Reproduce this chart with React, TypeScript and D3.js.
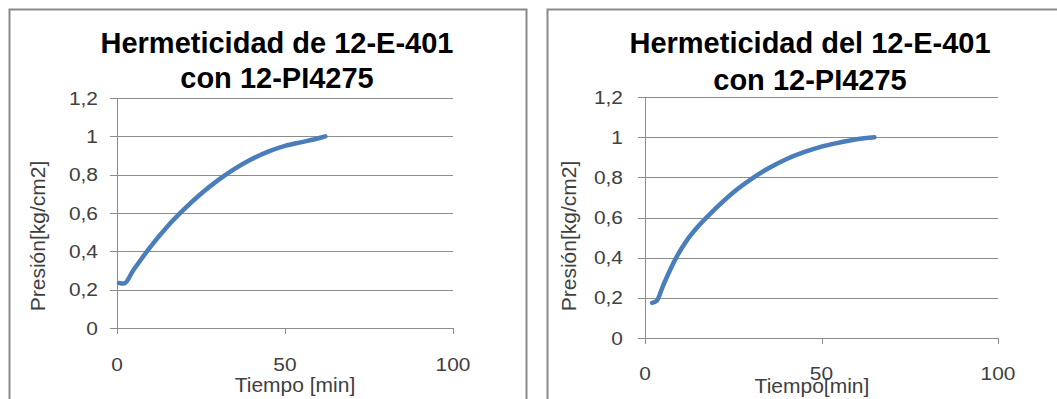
import React from "react";
import * as d3 from "d3";

// ---- data ----
const leftTime = [0.6, 2, 5, 10, 15, 20, 25, 30, 35, 40, 45, 50, 55, 60, 62];
const leftPressure = [0.235, 0.232, 0.305, 0.425, 0.53, 0.62, 0.7, 0.77, 0.83, 0.88, 0.92, 0.95, 0.97, 0.99, 1.0];
const rightTime = [2, 3.3, 5, 7, 9, 12, 15, 20, 25, 30, 35, 40, 45, 50, 55, 60, 65];
const rightPressure = [0.175, 0.185, 0.255, 0.335, 0.405, 0.49, 0.555, 0.645, 0.725, 0.79, 0.845, 0.89, 0.925, 0.953, 0.973, 0.99, 1.0];
const yTicks = [0, 0.2, 0.4, 0.6, 0.8, 1, 1.2];
const xTicks = [0, 50, 100];
const leftTitle = ["Hermeticidad de 12-E-401", "con 12-PI4275"];
const rightTitle = ["Hermeticidad del 12-E-401", "con 12-PI4275"];
const yAxisTitle = "Presión[kg/cm2]";
const leftXTitle = "Tiempo [min]";
const rightXTitle = "Tiempo[min]";

const FONT = "'Liberation Sans', Arial, sans-serif";
const fmt = (v: number) => String(v).replace(".", ",");

type ChartProps = {
  time: number[];
  pressure: number[];
  title: string[];
  xTitle: string;
  frameX: number;
  frameW: number;
  plotX0: number;
  plotX1: number;
  plotY0: number;
  plotY1: number;
  titleX: number;
  titleY: number[];
  yTitleX: number;
  yTitleY: number;
  yLabelRight: number;
  xLabelY: number;
  xTitleX: number;
  xTitleY: number;
  rightBorder: boolean;
};

function Chart(p: ChartProps) {
  const x = d3.scaleLinear().domain([0, 100]).range([p.plotX0, p.plotX1]);
  const y = d3.scaleLinear().domain([0, 1.2]).range([p.plotY0, p.plotY1]);
  const pts = p.time.map((t, i) => [t, p.pressure[i]] as [number, number]);
  const line = d3
    .line<[number, number]>()
    .x((d) => x(d[0]))
    .y((d) => y(d[1]))
    .curve(d3.curveMonotoneX);
  const frameTop = 9.5;
  const frameBottom = 420;
  return (
    <g>
      <path
        d={`M${p.frameX},${frameBottom} L${p.frameX},${frameTop} L${p.frameX + p.frameW},${frameTop}` +
          (p.rightBorder ? ` L${p.frameX + p.frameW},${frameBottom}` : "")}
        fill="none"
        stroke="#8a8a8a"
        strokeWidth={2}
      />
      {yTicks.map((t) => (
        <line key={"g" + t} x1={p.plotX0 - 7} x2={p.plotX1} y1={Math.round(y(t)) + 0.5} y2={Math.round(y(t)) + 0.5} stroke="#8c8c8c" strokeWidth={1} />
      ))}
      <line x1={p.plotX0 + 0.5} x2={p.plotX0 + 0.5} y1={y(1.2)} y2={y(0) + 6} stroke="#8c8c8c" strokeWidth={1} />
      {xTicks.map((t) => (
        <line key={"xt" + t} x1={Math.round(x(t)) + 0.5} x2={Math.round(x(t)) + 0.5} y1={y(0)} y2={y(0) + 6} stroke="#8c8c8c" strokeWidth={1} />
      ))}
      {yTicks.map((t) => (
        <text
          key={"yl" + t}
          transform={`translate(${p.yLabelRight},${y(t)}) scale(1.1,1)`}
          dy="0.35em"
          textAnchor="end"
          fontFamily={FONT}
          fontSize={19}
          fill="#404040"
        >
          {fmt(t)}
        </text>
      ))}
      {xTicks.map((t) => (
        <text
          key={"xl" + t}
          transform={`translate(${x(t)},${p.xLabelY}) scale(1.1,1)`}
          dy="0.35em"
          textAnchor="middle"
          fontFamily={FONT}
          fontSize={19}
          fill="#404040"
        >
          {t}
        </text>
      ))}
      <path d={line(pts) || ""} fill="none" stroke="#4a7ebb" strokeWidth={4.5} strokeLinecap="round" strokeLinejoin="round" />
      {p.title.map((s, i) => (
        <text key={"t" + i} x={p.titleX} y={p.titleY[i]} dy="0.35em" textAnchor="middle" fontFamily={FONT} fontSize={29} fontWeight="bold" fill="#000">
          {s}
        </text>
      ))}
      <text x={p.xTitleX} y={p.xTitleY} dy="0.35em" textAnchor="middle" fontFamily={FONT} fontSize={21} fill="#404040">
        {p.xTitle}
      </text>
      <text
        transform={`translate(${p.yTitleX},${p.yTitleY}) rotate(-90)`}
        dy="0.35em"
        textAnchor="middle"
        fontFamily={FONT}
        fontSize={21}
        fill="#404040"
      >
        {yAxisTitle}
      </text>
    </g>
  );
}

export default function App() {
  return (
    <svg width={1057} height={399} style={{ position: "absolute", left: 0, top: 0, background: "#fff" }}>
      <rect x={0} y={0} width={1057} height={399} fill="#fff" />
      <Chart
        time={leftTime}
        pressure={leftPressure}
        title={leftTitle}
        xTitle={leftXTitle}
        frameX={9.5}
        frameW={517}
        plotX0={117}
        plotX1={453}
        plotY0={328}
        plotY1={98}
        titleX={277}
        titleY={[43, 78]}
        yTitleX={38}
        yTitleY={236}
        yLabelRight={98}
        xLabelY={364}
        xTitleX={295}
        xTitleY={385}
        rightBorder={true}
      />
      <Chart
        time={rightTime}
        pressure={rightPressure}
        title={rightTitle}
        xTitle={rightXTitle}
        frameX={547.5}
        frameW={520}
        plotX0={645}
        plotX1={998}
        plotY0={338}
        plotY1={97}
        titleX={810}
        titleY={[43, 80]}
        yTitleX={569}
        yTitleY={236}
        yLabelRight={623}
        xLabelY={373}
        xTitleX={812}
        xTitleY={386}
        rightBorder={false}
      />
    </svg>
  );
}
